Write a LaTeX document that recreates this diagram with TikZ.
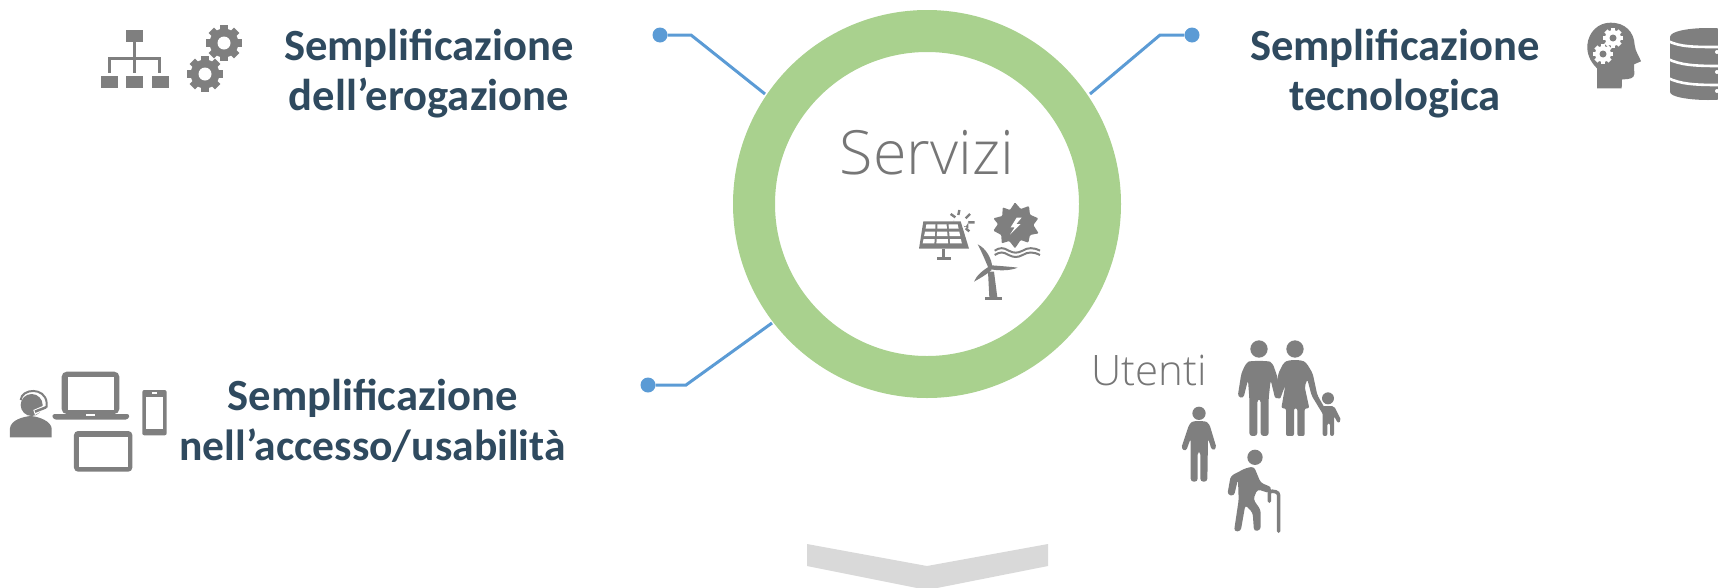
\documentclass[tikz,border=0pt]{standalone}
\usepackage{fontspec}
\setmainfont{Carlito}
\newfontfamily\lightfont{Open Sans Light}
\definecolor{ring}{HTML}{A9D18E}
\definecolor{link}{HTML}{5B9BD5}
\definecolor{ink}{HTML}{2F4A5F}
\definecolor{icon}{HTML}{7F7F7F}
\definecolor{softtext}{HTML}{767676}
\definecolor{chev}{HTML}{D9D9D9}
\newcommand{\gearicon}[7]{% x y R teeth fill hole holeR
  \fill[#5] (#1,#2) circle[radius=0.8*#3];
  \foreach \a in {1,...,#4}{
    \draw[#5,line width=2.6*0.165*#3 pt] ($(#1,#2)+({\a*360/#4}:0.6*#3)$) -- ($(#1,#2)+({\a*360/#4}:#3)$);
  }
  \fill[#6] (#1,#2) circle[radius=#7];
}
\usetikzlibrary{calc}
\tikzset{
  title/.style={font=\fontsize{44.6}{50}\selectfont\bfseries,text=ink,align=center,inner sep=0pt},
  soft/.style={text=softtext,inner sep=0pt},
  wire/.style={draw=link,line width=3pt},
  dot/.style={circle,fill=link,minimum size=15pt,inner sep=0pt},
  ic/.style={fill=icon},
  icl/.style={draw=icon,line width=3pt},
  px/.style={x=0.3333pt,y=-0.3333pt},
}
\begin{document}
\begin{tikzpicture}[x=1pt,y=-1pt]
\useasboundingbox (0,0) rectangle (1718,587);
% ring
\fill[ring,even odd rule] (927,204) circle[radius=194] (927,204) circle[radius=152];
% connectors
\node[dot] (d1) at (660,35) {};
\node[dot] (d2) at (1192,35) {};
\node[dot] (d3) at (648,385) {};
\coordinate (e1) at (691,35); \coordinate (r1) at (765,94);
\coordinate (e2) at (1160,35); \coordinate (r2) at (1090,94);
\coordinate (e3) at (686,385); \coordinate (r3) at (772,323);
\draw[wire] (d1) -- (e1) -- (r1);
\draw[wire] (d2) -- (e2) -- (r2);
\draw[wire] (d3) -- (e3) -- (r3);
% texts
\node[title] (t1) at (429,74) {Semplificazione\\dell’erogazione};
\node[title] (t2) at (1395,74) {Semplificazione\\tecnologica};
\node[title] (t3) at (372.5,421) {Semplificazione\\{\fontsize{43.6}{50}\selectfont nell’accesso/usabilità}};
\node[soft,font=\fontsize{61}{64}\lightfont] (s) at (927,153) {Servizi};
\node[soft,font=\fontsize{42}{44}\lightfont] (u) at (1149,370) {Utenti};
% chevron
\fill[chev] (807,544) -- (927,566) -- (1048,544) -- (1048,566) -- (927,590) -- (807,566) -- cycle;
% org chart and gears
\begin{scope}[shift={(80,0)},px]
  \fill[ic] (139,91) rectangle (190,126);
  \fill[ic] (63,229) rectangle (113,265);
  \fill[ic] (139,229) rectangle (190,265);
  \fill[ic] (215,229) rectangle (267,265);
  \draw[icl] (164,126) -- (164,218);
  \draw[icl] (88,218) -- (88,175) -- (240,175) -- (240,218);
\end{scope}
\gearicon{224}{43}{18}{8}{icon}{white}{6.5}
\gearicon{205}{74}{18}{8}{icon}{white}{6.5}
% head
\begin{scope}[shift={(1560,0)},px]
  \fill[ic] (111,265) -- (111,205) .. controls (90,185) and (80,160) .. (82,135)
    .. controls (86,95) and (115,68) .. (152,68)
    .. controls (195,68) and (222,95) .. (224,135)
    .. controls (226,155) and (238,170) .. (243,184)
    -- (222,193) -- (223,222) .. controls (222,235) and (210,238) .. (186,238) -- (185,265) -- cycle;
\end{scope}
\gearicon{1613}{38}{10}{8}{white}{icon}{3.5}
\gearicon{1603}{54}{10}{8}{white}{icon}{3.5}
% database
\begin{scope}
  \clip (1660,0) rectangle (1718,587);
  \fill[ic] (1670,37) .. controls (1670,31) and (1690,28) .. (1708,28)
    .. controls (1726,28) and (1746,31) .. (1746,37) -- (1746,92)
    .. controls (1746,97) and (1726,100) .. (1708,100)
    .. controls (1690,100) and (1670,97) .. (1670,92) -- cycle;
  \draw[white,line width=2.6pt] (1668,41) .. controls (1680,47) and (1695,47) .. (1718,47);
  \draw[white,line width=2.6pt] (1668,59) .. controls (1680,65) and (1695,66) .. (1718,66);
  \draw[white,line width=2.6pt] (1668,78) .. controls (1680,84) and (1695,85) .. (1718,85);
  \fill[white] (1717,52) circle[radius=2] (1717,72) circle[radius=2] (1717,91) circle[radius=2];
\end{scope}
% solar panel, turbine, wind
\begin{scope}[shift={(900,190)},px]
  \draw[icl,line width=2.4pt] (175,75) -- (178,60) (197,85) -- (210,72) (205,97) -- (224,97) (197,115) -- (208,124) (166,82) -- (152,72);
  \fill[ic] (161,92) arc[start angle=180,end angle=0,radius=22] -- (205,115) -- cycle;
  \fill[white] (160,93) -- (186,93) -- (200,135) -- (160,135) -- cycle;
  \fill[ic] (70,94) -- (182,94) -- (207,176) -- (57,176) -- cycle;
  \foreach \r in {0,1,2}{
    \foreach \c in {0,1,2}{
      \pgfmathsetmacro{\ya}{103+\r*22}
      \pgfmathsetmacro{\yb}{\ya+13}
      \pgfmathsetmacro{\sa}{(\ya-94)/82}
      \pgfmathsetmacro{\sb}{(\yb-94)/82}
      \pgfmathsetmacro{\la}{78-16*\sa}
      \pgfmathsetmacro{\lb}{78-16*\sb}
      \pgfmathsetmacro{\wa}{(96+34*\sa)/3}
      \pgfmathsetmacro{\wb}{(96+34*\sb)/3}
      \fill[white] ({\la+\c*\wa+3},\ya) -- ({\la+(\c+1)*\wa-3},\ya) -- ({\lb+(\c+1)*\wb-3},\yb) -- ({\lb+\c*\wb+3},\yb) -- cycle;
    }
  }
  \fill[ic] (125,176) rectangle (136,202);
  \fill[ic] (111,200) rectangle (153,211);
  % waves
  \foreach \y in {182,195}{
    \draw[icl,line width=2pt] (284,\y) .. controls (300,\y-10) and (310,\y-10) .. (326,\y)
      .. controls (342,\y+8) and (352,\y+8) .. (368,\y) .. controls (384,\y-10) and (400,\y-10) .. (420,\y);
  }
  % wind turbine
  \fill[ic] (264,245) -- (282,245) -- (292,322) -- (268,322) -- cycle;
  \fill[ic] (255,322) rectangle (305,329);
  \fill[ic] (268,240) .. controls (255,210) and (245,185) .. (233,163) .. controls (258,175) and (275,205) .. (277,232) -- cycle;
  \fill[ic] (275,226) .. controls (300,228) and (330,230) .. (353,233) .. controls (330,243) and (295,242) .. (272,238) -- cycle;
  \fill[ic] (270,228) .. controls (250,240) and (230,255) .. (222,275) .. controls (240,265) and (262,252) .. (275,240) -- cycle;
  % turbine wheel
  \fill[ic,rounded corners=1pt] (345,37) -- (362,57) -- (387,48) -- (390,74) -- (415,85) -- (400,105) -- (416,130) -- (390,135) -- (385,158) -- (362,150) -- (345,175) -- (328,153) -- (305,160) -- (304,135) -- (280,122) -- (294,102) -- (280,85) -- (307,78) -- (308,52) -- (330,60) -- cycle;
  \fill[white] (350,83) -- (332,112) -- (344,112) -- (330,134) -- (362,102) -- (349,102) -- (365,83) -- cycle;
\end{scope}
% devices
\begin{scope}[shift={(0,360)},px]
  \fill[ic,rounded corners=5pt,even odd rule] (185,35) -- (358,35) -- (358,162) -- (185,162) -- cycle;
  \fill[white] (203,52) rectangle (342,150);
  \fill[ic,rounded corners=3pt] (155,162) -- (390,162) -- (385,179) -- (160,179) -- cycle;
  \fill[white] (258,162) rectangle (285,167);
  \fill[ic,rounded corners=2pt] (427,90) rectangle (500,226);
  \fill[white] (437,110) rectangle (490,206);
  \fill[white] (456,97) rectangle (470,102);
  \fill[ic,rounded corners=4pt] (222,213) rectangle (397,335);
  \fill[white] (237,230) rectangle (385,320);
  \fill[ic] (95,135) circle[radius=33];
  \fill[ic] (30,232) -- (30,205) .. controls (32,180) and (70,170) .. (92,168) .. controls (120,170) and (153,185) .. (155,205) -- (155,232) -- cycle;
  \draw[icl,line width=2pt] (62,120) .. controls (65,85) and (135,80) .. (140,128) -- (140,140) -- (105,155);
  \fill[white] (100,150) -- (135,135) -- (135,148) -- (105,165) -- cycle;
  \draw[icl,line width=2.5pt] (105,155) -- (138,142);
\end{scope}
% people
\begin{scope}[shift={(1170,330)},px]
  \fill[ic] (267,57) circle[radius=26];
  \fill[ic] (375,57) circle[radius=26];
  \fill[ic] (474,205) circle[radius=18];
  \fill[ic] (87,250) circle[radius=20];
  \fill[ic] (255,382) circle[radius=23];
  % man
  \fill[ic,rounded corners=3pt] (228,100) .. controls (240,92) and (295,92) .. (308,100) -- (322,140) -- (332,200) -- (316,208) -- (302,150) -- (296,205) -- (296,318) -- (272,318) -- (272,208) -- (262,208) -- (262,318) -- (238,318) -- (238,205) -- (234,150) -- (220,205) -- (203,200) -- (214,130) -- cycle;
  % woman
  \fill[ic,rounded corners=2pt] (340,100) .. controls (355,88) and (395,88) .. (410,100) -- (428,130) -- (442,195) -- (472,248) -- (462,258) -- (425,197) -- (412,148) -- (404,170) -- (418,235) -- (404,235) -- (404,318) -- (382,318) -- (382,235) -- (372,235) -- (372,318) -- (348,318) -- (348,235) -- (334,235) -- (346,165) -- (330,208) -- (316,200) -- (325,130) -- cycle;
  % child
  \fill[ic,rounded corners=2pt] (458,228) -- (492,228) -- (514,272) -- (504,280) -- (492,258) -- (492,318) -- (480,318) -- (480,280) -- (472,280) -- (472,318) -- (458,318) -- cycle;
  % adult alone
  \fill[ic,rounded corners=3pt] (58,282) .. controls (70,272) and (105,272) .. (118,282) -- (140,355) -- (126,362) -- (114,325) -- (112,455) -- (91,455) -- (91,365) -- (83,365) -- (83,455) -- (62,455) -- (62,325) -- (48,364) -- (33,356) -- cycle;
  % elder
  \fill[ic,rounded corners=3pt] (228,414) -- (252,410) -- (272,458) -- (305,472) -- (300,490) -- (262,478) -- (250,508) -- (272,540) -- (272,600) -- (252,604) -- (248,548) -- (226,525) -- (212,604) -- (192,604) -- (206,510) -- (204,448) -- (192,498) -- (172,494) -- (182,438) -- cycle;
  \draw[icon,line width=3.5pt,line cap=round,rounded corners=3pt] (326,604) -- (326,487) -- (298,482) -- (298,514);
\end{scope}
\end{tikzpicture}
\end{document}
